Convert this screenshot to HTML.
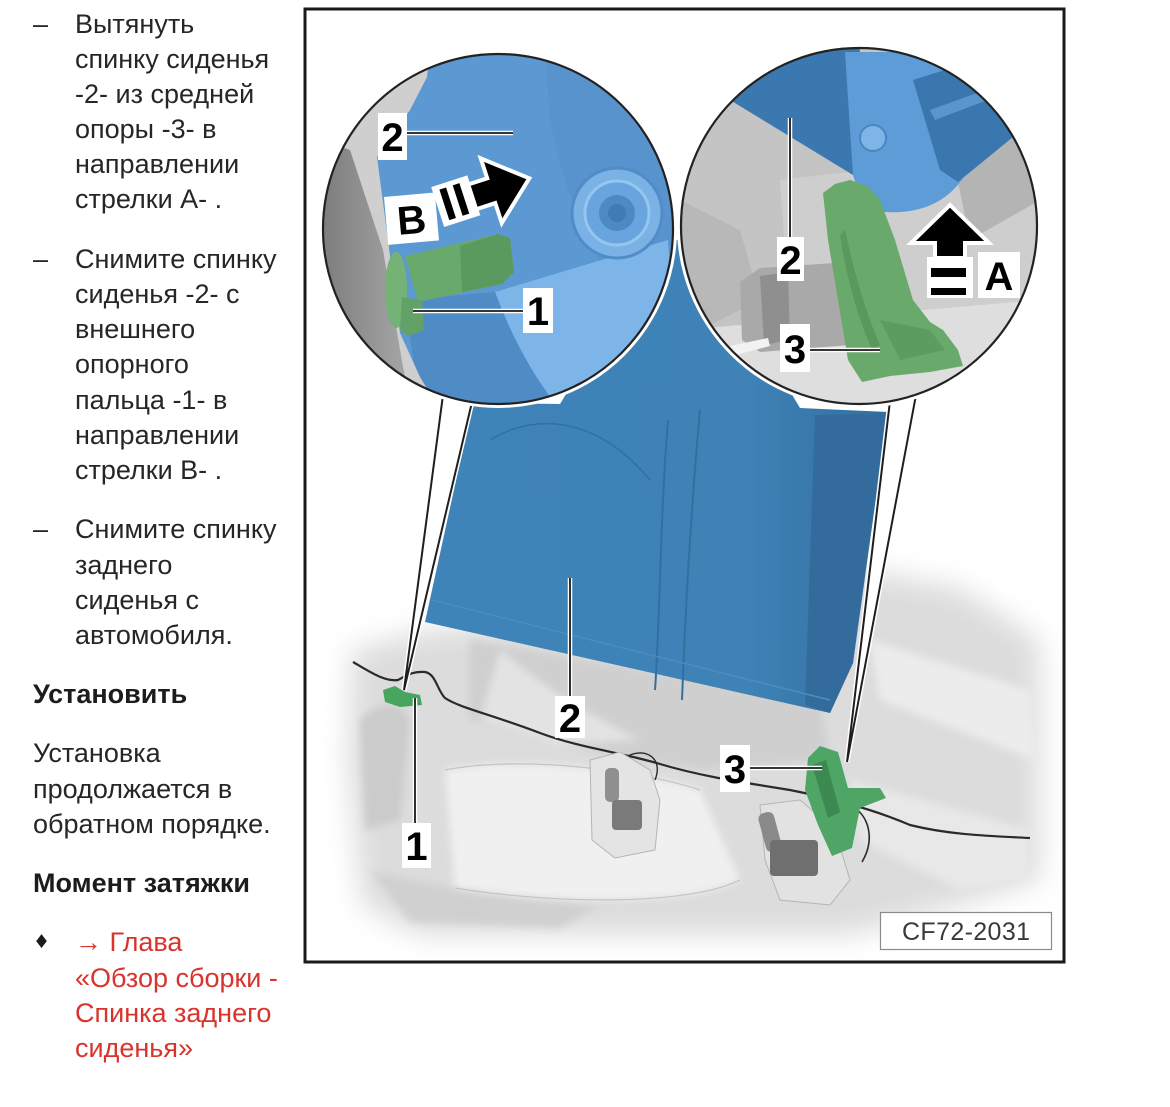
<!DOCTYPE html>
<html><head><meta charset="utf-8">
<style>
html,body{margin:0;padding:0;background:#fff;}
body{width:1170px;height:1107px;position:relative;overflow:hidden;font-family:"Liberation Sans",Arial,sans-serif;}
.l{position:absolute;font-size:27px;line-height:35px;color:#262626;white-space:nowrap;}
.b{font-weight:bold;color:#1c1c1c;}
.r{color:#d8332c;}
svg{position:absolute;left:0;top:0;}
</style></head><body>

<div class="l" style="left:33px;top:6.5px">–</div>
<div class="l" style="left:75px;top:6.5px">Вытянуть</div>
<div class="l" style="left:75px;top:41.5px">спинку сиденья</div>
<div class="l" style="left:75px;top:76.5px">-2- из средней</div>
<div class="l" style="left:75px;top:111.5px">опоры -3- в</div>
<div class="l" style="left:75px;top:146.5px">направлении</div>
<div class="l" style="left:75px;top:181.5px">стрелки A- .</div>

<div class="l" style="left:33px;top:241.5px">–</div>
<div class="l" style="left:75px;top:241.5px">Снимите спинку</div>
<div class="l" style="left:75px;top:276.5px">сиденья -2- с</div>
<div class="l" style="left:75px;top:311.5px">внешнего</div>
<div class="l" style="left:75px;top:346.5px">опорного</div>
<div class="l" style="left:75px;top:382.5px">пальца -1- в</div>
<div class="l" style="left:75px;top:417.5px">направлении</div>
<div class="l" style="left:75px;top:452.5px">стрелки B- .</div>

<div class="l" style="left:33px;top:511.5px">–</div>
<div class="l" style="left:75px;top:511.5px">Снимите спинку</div>
<div class="l" style="left:75px;top:547.5px">заднего</div>
<div class="l" style="left:75px;top:582.5px">сиденья с</div>
<div class="l" style="left:75px;top:617.5px">автомобиля.</div>

<div class="l b" style="left:33px;top:676.5px">Установить</div>

<div class="l" style="left:33px;top:735.5px">Установка</div>
<div class="l" style="left:33px;top:771.5px">продолжается в</div>
<div class="l" style="left:33px;top:806.5px">обратном порядке.</div>

<div class="l b" style="left:33px;top:865.5px">Момент затяжки</div>

<div class="l" style="left:33px;top:924.5px;font-family:'DejaVu Sans',sans-serif;font-size:19px;color:#1c1c1c">♦</div>
<div class="l r" style="left:75px;top:924.5px">→ Глава</div>
<div class="l r" style="left:75px;top:960.5px">«Обзор сборки -</div>
<div class="l r" style="left:75px;top:995.5px">Спинка заднего</div>
<div class="l r" style="left:75px;top:1030.5px">сиденья»</div>

<svg width="1170" height="1107" viewBox="0 0 1170 1107" xmlns="http://www.w3.org/2000/svg">
<defs>
  <clipPath id="cl"><circle cx="498" cy="229" r="175"/></clipPath>
  <clipPath id="cr"><circle cx="859" cy="226" r="178"/></clipPath>
  <filter id="bl" x="-30%" y="-30%" width="160%" height="160%"><feGaussianBlur stdDeviation="14"/></filter>
  <filter id="bl2" x="-20%" y="-20%" width="140%" height="140%"><feGaussianBlur stdDeviation="4"/></filter>
  <linearGradient id="gdark" x1="0" y1="0" x2="1" y2="0">
    <stop offset="0" stop-color="#7c7c7c"/><stop offset="1" stop-color="#a8a8a8"/>
  </linearGradient>
  <linearGradient id="seatg" x1="0" y1="0" x2="1" y2="0">
    <stop offset="0" stop-color="#3f84b9"/><stop offset="0.7" stop-color="#3e82b6"/><stop offset="1" stop-color="#336d9e"/>
  </linearGradient>
</defs>

<!-- floor scene -->
<g filter="url(#bl)">
  <path d="M352,650 L430,630 L700,605 L850,568 L960,588 L1040,640 L1040,880 L960,905 L850,935 L600,935 L420,935 L362,905 L348,760 Z" fill="#dcdcdc"/>
</g>
<g filter="url(#bl2)">
  <path d="M445,770 C520,755 640,770 700,790 L740,880 C690,905 560,905 455,888 Z" fill="#f0f0f0"/>
  <path d="M470,640 L820,700 L830,760 L700,770 L560,745 L470,720 Z" fill="#cfcfcf"/>
  <path d="M500,650 C560,700 600,720 640,740 L560,745 L480,720 Z" fill="#e3e3e3"/>
  <path d="M870,640 L1030,690 L1035,760 L880,700 Z" fill="#ececec"/>
  <path d="M850,780 L1030,830 L1030,880 L960,890 L860,840 Z" fill="#e8e8e8"/>
  <path d="M370,870 C420,885 520,900 600,905 L560,928 L410,922 Z" fill="#d0d0d0"/>
  <path d="M360,720 C380,700 400,700 410,720 L400,820 L365,830 Z" fill="#cbcbcb"/>
</g>
<path d="M445,770 C520,755 640,770 700,790" fill="none" stroke="#c4c4c4" stroke-width="1.2"/>
<path d="M455,888 C560,905 690,905 740,880" fill="none" stroke="#c4c4c4" stroke-width="1.2"/>
<!-- cable -->
<path d="M353,662 C370,672 385,682 398,680 C406,676 412,671 425,672 C436,674 437,690 445,698 C460,708 490,714 540,733 C580,748 620,752 660,764 C700,776 740,782 790,790 C840,800 880,812 910,825 C950,835 990,836 1030,838" fill="none" stroke="#2a2a2a" stroke-width="2.2"/>
<path d="M850,805 C870,815 875,840 862,862" fill="none" stroke="#2a2a2a" stroke-width="1.6"/>
<path d="M622,760 C640,745 665,755 655,780" fill="none" stroke="#2a2a2a" stroke-width="1.4"/>
<!-- buckle left -->
<path d="M590,760 L620,752 L650,770 L660,800 L655,850 L615,858 L592,840 Z" fill="#e4e4e4" stroke="#b5b5b5" stroke-width="1"/>
<rect x="605" y="768" width="14" height="34" rx="5" fill="#8f8f8f"/>
<rect x="612" y="800" width="30" height="30" rx="4" fill="#7a7a7a"/>
<!-- buckle right -->
<path d="M760,805 L800,800 L835,830 L850,880 L830,905 L780,900 L765,860 Z" fill="#e2e2e2" stroke="#b5b5b5" stroke-width="1"/>
<rect x="762" y="812" width="16" height="40" rx="6" fill="#8a8a8a" transform="rotate(-15 770 832)"/>
<rect x="770" y="840" width="48" height="36" rx="4" fill="#6f6f6f"/>
<!-- green pin bottom -->
<path d="M383,690 L395,686 L405,692 L420,695 L422,705 L400,707 L385,702 Z" fill="#47a55f"/>
<!-- green part 3 bottom -->
<path d="M808,758 L820,746 L838,752 L848,788 L880,788 L886,798 L860,808 L852,848 L832,856 L818,825 L805,790 Z" fill="#4ea566"/>
<path d="M812,765 L826,760 L840,812 L828,818 Z" fill="#3c8a52"/>

<!-- seat back -->
<path d="M473,403 L560,404 L660,240 L700,240 L800,408 L888,412 L853,663 L830,713 L425,622 Z" fill="url(#seatg)"/>
<path d="M668,420 C660,520 660,620 655,690" fill="none" stroke="#336f9f" stroke-width="2"/>
<path d="M700,410 C690,520 685,620 682,700" fill="none" stroke="#336f9f" stroke-width="2"/>
<path d="M490,440 C540,410 600,420 650,480" fill="none" stroke="#346fa0" stroke-width="1.5"/>
<path d="M815,415 L885,414 L853,663 L830,713 L805,705 Z" fill="#336c9c"/>
<path d="M432,600 L830,700" stroke="#4a8dc0" stroke-width="1.5" fill="none"/>

<!-- cones -->
<polygon points="443,395 404,690 472,402" fill="#fff"/>
<polygon points="890,401 847,762 916,395" fill="#fff"/>
<g stroke="#fff" stroke-width="5" fill="none" stroke-linecap="round">
  <path d="M443,395 L404,690 L472,402"/>
  <path d="M890,401 L847,762 L916,395"/>
</g>
<g stroke="#1e1e1e" stroke-width="2" fill="none">
  <path d="M443,395 L404,690 L472,402"/>
  <path d="M890,401 L847,762 L916,395"/>
</g>

<!-- left circle -->
<circle cx="498" cy="229" r="176" fill="#fff" stroke="#fff" stroke-width="6"/>
<g clip-path="url(#cl)">
  <rect x="320" y="50" width="360" height="360" fill="#5c99d3"/>
  <path d="M545,54 L680,54 L680,250 L600,262 Q565,200 550,120 Z" fill="#5893cd"/>
  <path d="M495,292 L668,240 L680,410 L560,410 Q520,360 495,292 Z" fill="#7db5e8"/>
  <path d="M405,300 L495,292 Q520,360 560,410 L420,410 Z" fill="#4f8bc4"/>
  <circle cx="617" cy="213" r="45" fill="#7ab2e6" stroke="#4f8cc8" stroke-width="3"/>
  <circle cx="617" cy="213" r="32" fill="#68a4dd" stroke="#93c6f0" stroke-width="3"/>
  <circle cx="617" cy="213" r="18" fill="#4d8ac4"/>
  <circle cx="617" cy="213" r="9" fill="#3f7bb5"/>
  <path d="M320,50 L430,50 L427,77 L410,110 L377,157 L387,233 L400,333 L420,377 L440,410 L320,410 Z" fill="#cfcfcf"/>
  <path d="M320,140 L350,150 L383,250 L403,367 L412,410 L320,410 Z" fill="url(#gdark)"/>
  <!-- green pin -->
  <path d="M405,256 L498,234 L510,238 L514,272 L502,284 L418,302 Z" fill="#69aa6c"/>
  <path d="M460,246 L498,234 L510,238 L514,272 L502,284 L462,292 Z" fill="#5a9a5f"/>
  <ellipse cx="396" cy="290" rx="11" ry="38" fill="#74b276"/>
  <path d="M402,297 L422,300 L424,330 L408,336 L400,330 Z" fill="#62a266"/>
</g>
<circle cx="498" cy="229" r="175" fill="none" stroke="#222" stroke-width="2.2"/>

<!-- right circle -->
<circle cx="859" cy="226" r="179" fill="#fff" stroke="#fff" stroke-width="6"/>
<g clip-path="url(#cr)">
  <rect x="678" y="45" width="365" height="365" fill="#c4c4c4"/>
  <path d="M780,180 L1040,150 L1040,300 L790,320 Z" fill="#cecece"/>
  <path d="M958,182 L1040,115 L1040,200 L970,240 Z" fill="#b4b4b4"/>
  <path d="M680,330 L1040,300 L1040,410 L680,410 Z" fill="#dedede"/>
  <path d="M680,200 L740,230 L760,300 L700,330 L680,320 Z" fill="#b8b8b8"/>
  <path d="M740,282 L760,268 L850,262 L850,345 L760,352 L742,340 Z" fill="#a9a9a9"/>
  <path d="M760,276 L788,272 L790,340 L764,345 Z" fill="#8f8f8f"/>
  <path d="M730,346 L768,338 L770,346 L732,356 Z" fill="#f2f2f2"/>
  <path d="M681,48 L860,48 L853,175 L730,100 L681,88 Z" fill="#3b78b0"/>
  <path d="M845,52 L975,52 L965,175 Q940,215 885,212 Q860,202 853,175 Z" fill="#5e9cd8"/>
  <circle cx="873" cy="138" r="13" fill="#7fb5e6" stroke="#4a86c0" stroke-width="2"/>
  <path d="M913,80 L1040,40 L1040,115 L958,182 L940,170 Z" fill="#3a77ae"/>
  <path d="M930,110 L1040,70 L1040,80 L935,120 Z" fill="#5a95cc"/>
  <!-- green bracket -->
  <path d="M823,193 L835,184 L850,180 L867,186 L880,200 L895,240 L913,300 L930,322 L943,330 L958,350 L963,366 L930,372 L890,376 L862,382 L848,360 L838,300 L828,240 Z" fill="#6aa96c"/>
  <path d="M845,230 Q860,300 880,345 L872,350 Q850,300 840,235 Z" fill="#5a985d"/>
  <path d="M880,320 L930,330 L945,350 L900,360 Z" fill="#5d9c60"/>
</g>
<circle cx="859" cy="226" r="178" fill="none" stroke="#222" stroke-width="2.2"/>

<!-- leaders -->
<g stroke="#fff" stroke-width="4.5" fill="none">
  <path d="M407,133 L513,133 M413,311 L523,311 M790,118 L790,237 M810,350 L880,350 M570,578 L570,697 M415,698 L415,825 M750,768 L822,768"/>
</g>
<g stroke="#1a1a1a" stroke-width="1.8" fill="none">
  <path d="M407,133 L513,133 M413,311 L523,311 M790,118 L790,237 M810,350 L880,350 M570,578 L570,697 M415,698 L415,825 M750,768 L822,768"/>
</g>

<!-- labels -->
<g font-family="Liberation Sans, Arial, sans-serif" font-weight="bold" font-size="40" fill="#000" text-anchor="middle">
  <rect x="378" y="113" width="29" height="47" fill="#fff"/><text x="392.5" y="151">2</text>
  <rect x="523" y="288" width="30" height="45" fill="#fff"/><text x="538" y="325">1</text>
  <rect x="777" y="237" width="27" height="44" fill="#fff"/><text x="790.5" y="274">2</text>
  <rect x="780" y="324" width="30" height="48" fill="#fff"/><text x="795" y="363">3</text>
  <rect x="555" y="696" width="30" height="42" fill="#fff"/><text x="570" y="732">2</text>
  <rect x="402" y="823" width="29" height="45" fill="#fff"/><text x="416.5" y="860">1</text>
  <rect x="720" y="745" width="30" height="47" fill="#fff"/><text x="735" y="783">3</text>
  <g transform="translate(384,197) rotate(-5)">
    <rect x="0" y="0" width="51" height="48" fill="#fff"/><text x="25.5" y="39">B</text>
  </g>
  <rect x="978" y="252" width="42" height="46" fill="#fff"/><text x="999" y="290">A</text>
</g>
<!-- B arrow -->
<g transform="translate(438,208) rotate(-18)">
  <rect x="0" y="-22" width="38" height="42" fill="#fff"/>
  <rect x="7" y="-17" width="7" height="32" fill="#000"/>
  <rect x="21" y="-17" width="7" height="32" fill="#000"/>
  <polygon points="36,-13 56,-13 56,-34 96,0 56,34 56,13 36,13" fill="#000" stroke="#fff" stroke-width="4" stroke-linejoin="miter"/>
</g>
<!-- A arrow -->
<rect x="927" y="257" width="46" height="41" fill="#fff"/>
<rect x="931" y="268" width="35" height="9" fill="#000"/>
<rect x="931" y="288" width="35" height="7" fill="#000"/>
<polygon points="935,258 935,243 911,243 950,205 989,243 965,243 965,258" fill="#000" stroke="#fff" stroke-width="4"/>

<!-- CF box -->
<rect x="880.5" y="912.5" width="171" height="37" fill="#fff" stroke="#8a8a8a" stroke-width="1.2"/>
<text x="966" y="940" font-family="Liberation Sans, Arial, sans-serif" font-size="25" fill="#3a3a3a" text-anchor="middle" textLength="128">CF72-2031</text>

<!-- frame -->
<rect x="305" y="9" width="759" height="953" fill="none" stroke="#1a1a1a" stroke-width="3"/>
</svg>
</body></html>
